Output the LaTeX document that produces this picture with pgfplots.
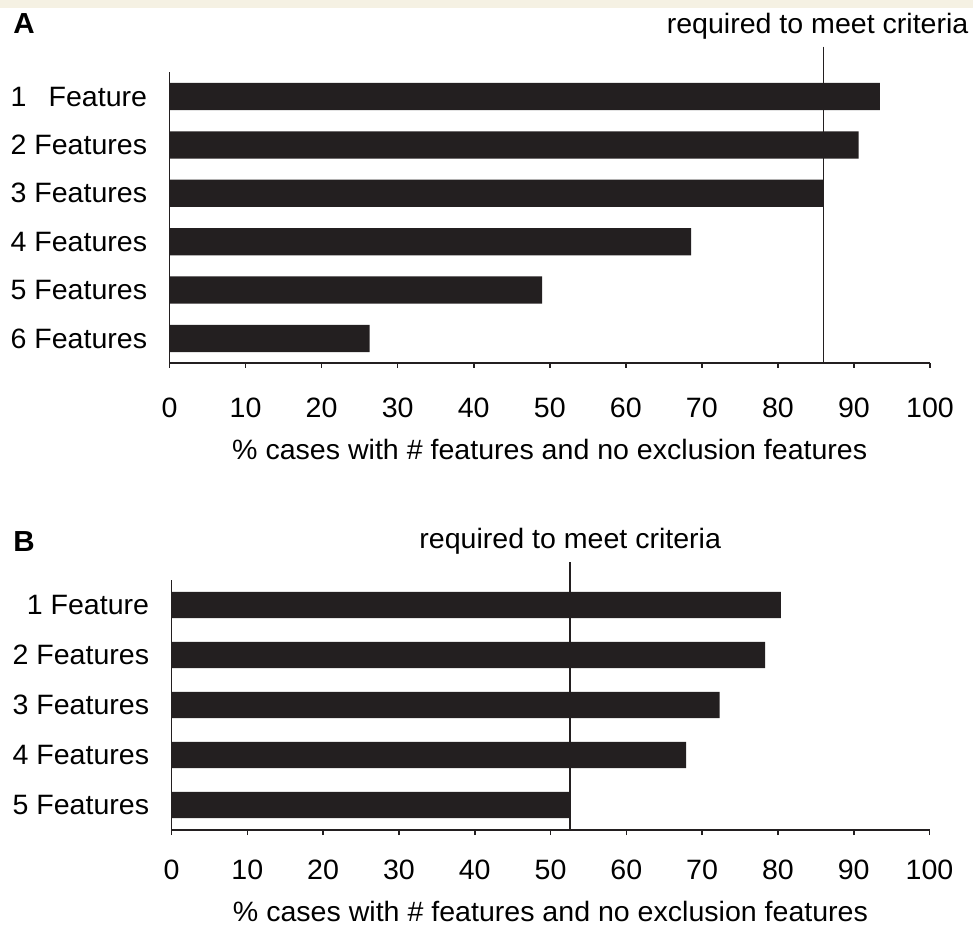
\documentclass[border=0pt]{standalone}
\usepackage{pgfplots}
\pgfplotsset{compat=1.18}
\usepackage{fontspec}
\setmainfont{Liberation Sans}[FakeStretch=1.02]
\definecolor{barc}{RGB}{35,31,32}
\definecolor{bandc}{RGB}{245,241,227}
\pgfplotsset{
  panel/.style={
    scale only axis, clip=false,
    axis x line*=bottom, axis y line*=left,
    axis line style={-, line width=0.9pt, color=barc},
    xmin=0, xmax=100, xtick={0,10,...,100},
    tick align=outside,
    x tick style={line width=0.8pt, color=barc},
    major tick length=2.5pt,
    y tick style={draw=none},
    y dir=reverse,
    /pgf/number format/assume math mode=true,
    xticklabel style={anchor=base, inner sep=0pt},
    yticklabel style={anchor=east, inner sep=0pt, xshift=-8.5pt},
    ymin=0.5,
  }
}
\begin{document}
\fontsize{14pt}{16.5pt}\selectfont
\begin{tikzpicture}
\useasboundingbox (0,0) rectangle (486.5pt,465.5pt);
\fill[bandc] (0,461.5pt) rectangle (486.5pt,465.5pt);
\node[anchor=base west, inner sep=0pt, font=\fontsize{14.5pt}{17pt}\selectfont\bfseries] at (6.5pt,448.5pt) {A};
\node[anchor=base west, inner sep=0pt, font=\fontsize{14.5pt}{17pt}\selectfont\bfseries] at (6.5pt,189.5pt) {B};
% Panel A
\begin{axis}[panel,
  at={(84.75pt,284.15pt)}, anchor=south west,
  width=380.25pt, height=145.2pt,
  ymax=6.5, ytick={1,2,3,4,5,6},
  yticklabels={{\rlap{1}\hphantom{2 Features}\llap{Feature}},2 Features,3 Features,4 Features,5 Features,6 Features},
  xticklabel style={yshift=-25pt},
]
\addplot[xbar, bar width=13.6pt, fill=barc, draw=none] coordinates {
(93.4,1) (90.6,2) (85.9,3) (68.6,4) (49.0,5) (26.3,6)};
\addplot[line width=0.9pt, color=barc, mark=none] coordinates {(86,-0.03) (86,6.5)};
\node[anchor=base east, inner sep=0pt] at (axis cs:105.1,-0.31) {required to meet criteria};
\node[anchor=base, inner sep=0pt] at (axis description cs:0.5,0) [yshift=-48.5pt] {\% cases with \# features and no exclusion features};
\end{axis}
% Panel B
\begin{axis}[panel,
  at={(85.75pt,50.5pt)}, anchor=south west,
  width=379pt, height=125pt,
  ymax=5.5, ytick={1,2,3,4,5},
  yticklabels={1 Feature,2 Features,3 Features,4 Features,5 Features},
  xticklabel style={yshift=-22pt},
]
\addplot[xbar, bar width=13.2pt, fill=barc, draw=none] coordinates {
(80.4,1) (78.3,2) (72.3,3) (67.9,4) (52.6,5)};
\addplot[line width=0.9pt, color=barc, mark=none] coordinates {(52.6,0.14) (52.6,5.5)};
\node[anchor=base, inner sep=0pt] at (axis cs:52.6,-0.12) {required to meet criteria};
\node[anchor=base, inner sep=0pt] at (axis description cs:0.5,0) [yshift=-45.5pt] {\% cases with \# features and no exclusion features};
\end{axis}
\end{tikzpicture}
\end{document}
